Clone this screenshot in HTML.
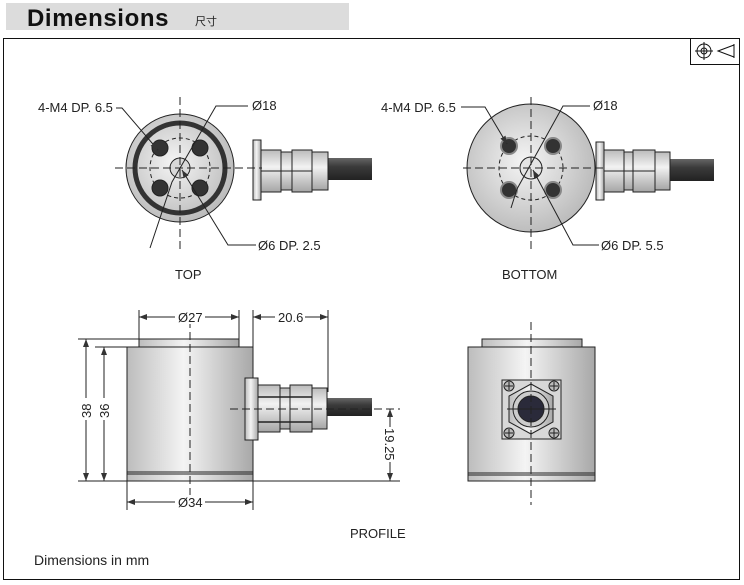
<!DOCTYPE html>
<html><head><meta charset="utf-8"><style>
html,body{margin:0;padding:0;background:#fff;}
svg{display:block;font-family:"Liberation Sans","Noto Sans CJK SC",sans-serif;}
</style></head><body>
<svg width="744" height="585" viewBox="0 0 744 585" xmlns="http://www.w3.org/2000/svg">
<defs>
<linearGradient id="hg" x1="0" x2="1" y1="0" y2="0">
<stop offset="0" stop-color="#bdbdbd"/><stop offset="0.45" stop-color="#f4f4f4"/><stop offset="1" stop-color="#a8a8a8"/></linearGradient>
<linearGradient id="vg" x1="0" x2="0" y1="0" y2="1">
<stop offset="0" stop-color="#bbb"/><stop offset="0.4" stop-color="#f2f2f2"/><stop offset="1" stop-color="#a5a5a5"/></linearGradient>
<radialGradient id="rg" cx="0.45" cy="0.45" r="0.6">
<stop offset="0" stop-color="#f5f5f5"/><stop offset="1" stop-color="#b8b8b8"/></radialGradient>
<linearGradient id="cab" x1="0" x2="0" y1="0" y2="1">
<stop offset="0" stop-color="#666"/><stop offset="0.4" stop-color="#3a3a3a"/><stop offset="1" stop-color="#222"/></linearGradient>
<marker id="ar" markerWidth="8" markerHeight="6" refX="8" refY="3" orient="auto-start-reverse" markerUnits="userSpaceOnUse"><path d="M0,0 L8,3 L0,6 z" fill="#333"/></marker>
</defs>
<rect x="6" y="3" width="343" height="27" fill="#dcdcdc"/>
<text x="27" y="26" font-size="24" font-weight="bold" letter-spacing="0.6" fill="#111">Dimensions</text>
<text x="195" y="25" font-size="11" fill="#222">尺寸</text>
<rect x="3.5" y="38.5" width="736" height="541" fill="none" stroke="#111" stroke-width="1"/>
<rect x="690.5" y="38.5" width="49" height="26" fill="#fff" stroke="#111"/>
<circle cx="704" cy="51" r="7" fill="none" stroke="#111"/><circle cx="704" cy="51" r="3" fill="none" stroke="#111"/>
<line x1="695" y1="51" x2="713" y2="51" stroke="#111"/><line x1="704" y1="42" x2="704" y2="60" stroke="#111"/>
<path d="M718,51 L734,45 L734,57 Z" fill="none" stroke="#111"/><line x1="734" y1="44" x2="734" y2="58" stroke="#111"/>

<g stroke="#222" stroke-width="1">
<rect x="328" y="158" width="44" height="22" fill="url(#cab)" stroke="none"/>
<rect x="253" y="140" width="8" height="60" fill="url(#hg)"/>
<rect x="261" y="150" width="20" height="42" fill="url(#vg)"/>
<rect x="281" y="152" width="47" height="38" fill="url(#vg)"/>
<rect x="292" y="150" width="20" height="42" fill="url(#vg)"/>
<line x1="261" y1="171" x2="312" y2="171"/>
<circle cx="180" cy="168" r="54" fill="url(#rg)"/>
<circle cx="180" cy="168" r="45" fill="none" stroke="#333" stroke-width="5"/>
<circle cx="180" cy="168" r="30" fill="none" stroke-dasharray="4,3"/>
<circle cx="180" cy="168" r="10" fill="#d8d8d8"/>
<circle cx="160" cy="148" r="8" fill="#333"/><circle cx="200" cy="148" r="8" fill="#333"/>
<circle cx="160" cy="188" r="8" fill="#333"/><circle cx="200" cy="188" r="8" fill="#333"/>
<line x1="115" y1="168" x2="262" y2="168" stroke-dasharray="8,4"/>
<line x1="180" y1="97" x2="180" y2="252" stroke-dasharray="8,4"/>
<polyline points="116,108 122,108 158,150" fill="none" marker-end="url(#ar)"/>
<polyline points="248,106 216,106 172,182 150,248" fill="none"/>
<polyline points="256,245 228,245 182,170" fill="none" marker-end="url(#ar)"/>

<rect x="670" y="159" width="44" height="22" fill="url(#cab)" stroke="none"/>
<rect x="596" y="142" width="8" height="58" fill="url(#hg)"/>
<rect x="604" y="150" width="20" height="42" fill="url(#vg)"/>
<rect x="624" y="152" width="46" height="38" fill="url(#vg)"/>
<rect x="633" y="150" width="22" height="42" fill="url(#vg)"/>
<line x1="604" y1="171" x2="655" y2="171"/>
<circle cx="531" cy="168" r="64" fill="url(#rg)"/>
<circle cx="531" cy="168" r="32" fill="none" stroke-dasharray="4,3"/>
<circle cx="531" cy="168" r="11" fill="#e4e4e4"/>
<g fill="#333" stroke="#888" stroke-width="2">
<circle cx="509" cy="146" r="8"/><circle cx="553" cy="146" r="8"/>
<circle cx="509" cy="190" r="8"/><circle cx="553" cy="190" r="8"/></g>
<line x1="463" y1="168" x2="606" y2="168" stroke-dasharray="8,4"/>
<line x1="531" y1="97" x2="531" y2="250" stroke-dasharray="8,4"/>
<polyline points="461,107 485,107 507,144" fill="none" marker-end="url(#ar)"/>
<polyline points="590,106 563,106 517,189 511,208" fill="none"/>
<polyline points="599,245 573,245 533,170" fill="none" marker-end="url(#ar)"/>
</g>
<g font-size="13" fill="#222">
<text x="38" y="112">4-M4 DP. 6.5</text>
<text x="252" y="110">Ø18</text>
<text x="258" y="250">Ø6 DP. 2.5</text>
<text x="175" y="279">TOP</text>
<text x="381" y="112">4-M4 DP. 6.5</text>
<text x="593" y="110">Ø18</text>
<text x="601" y="250">Ø6 DP. 5.5</text>
<text x="502" y="279">BOTTOM</text>
<text x="350" y="538">PROFILE</text>
<text x="34" y="565" font-size="14">Dimensions in mm</text>
</g>

<g stroke="#222" stroke-width="1">
<rect x="139" y="339" width="100" height="8" fill="url(#hg)"/>
<rect x="127" y="347" width="126" height="134" fill="url(#hg)"/>
<line x1="127" y1="472" x2="253" y2="472"/><line x1="127" y1="474" x2="253" y2="474"/>
<rect x="327" y="398" width="45" height="18" fill="url(#cab)" stroke="none"/>
<rect x="245" y="378" width="13" height="62" fill="url(#hg)"/>
<rect x="258" y="385" width="22" height="47" fill="url(#vg)"/>
<rect x="280" y="388" width="47" height="41" fill="url(#vg)"/>
<rect x="290" y="385" width="22" height="47" fill="url(#vg)"/>
<line x1="258" y1="397" x2="312" y2="397" stroke-width="1.5"/><line x1="258" y1="422" x2="312" y2="422" stroke-width="1.5"/>
<line x1="230" y1="409" x2="400" y2="409" stroke-dasharray="8,4"/>
<line x1="190" y1="320" x2="190" y2="510" stroke-dasharray="8,4"/>
<line x1="139" y1="310" x2="139" y2="339"/><line x1="239" y1="310" x2="239" y2="339"/>
<line x1="139" y1="317" x2="175" y2="317" marker-start="url(#ar)"/><line x1="205" y1="317" x2="239" y2="317" marker-end="url(#ar)"/>
<line x1="253" y1="310" x2="253" y2="347"/><line x1="328" y1="310" x2="328" y2="392"/>
<line x1="253" y1="317" x2="275" y2="317" marker-start="url(#ar)"/><line x1="305" y1="317" x2="328" y2="317" marker-end="url(#ar)"/>
<line x1="78" y1="339" x2="139" y2="339"/><line x1="95" y1="347" x2="127" y2="347"/>
<line x1="78" y1="481" x2="400" y2="481"/>
<line x1="86" y1="339" x2="86" y2="398" marker-start="url(#ar)"/><line x1="86" y1="420" x2="86" y2="481" marker-end="url(#ar)"/>
<line x1="104" y1="347" x2="104" y2="398" marker-start="url(#ar)"/><line x1="104" y1="420" x2="104" y2="481" marker-end="url(#ar)"/>
<line x1="127" y1="481" x2="127" y2="510"/><line x1="253" y1="481" x2="253" y2="510"/>
<line x1="127" y1="502" x2="175" y2="502" marker-start="url(#ar)"/><line x1="205" y1="502" x2="253" y2="502" marker-end="url(#ar)"/>
<line x1="390" y1="409" x2="390" y2="427" marker-start="url(#ar)"/><line x1="390" y1="462" x2="390" y2="481" marker-end="url(#ar)"/>
</g>
<g fill="#fff">
<rect x="177" y="310" width="28" height="14"/><rect x="277" y="310" width="28" height="14"/>
<rect x="177" y="495" width="28" height="14"/>
<rect x="79" y="400" width="14" height="18"/><rect x="97" y="400" width="14" height="18"/>
<rect x="383" y="427" width="14" height="35"/>
</g>
<g font-size="13" fill="#222">
<text x="178" y="322">Ø27</text>
<text x="278" y="322">20.6</text>
<text x="178" y="507">Ø34</text>
<text transform="translate(91,418) rotate(-90)">38</text>
<text transform="translate(109,418) rotate(-90)">36</text>
<text transform="translate(385,428) rotate(90)">19.25</text>
</g>

<g stroke="#222" stroke-width="1">
<rect x="482" y="339" width="100" height="8" fill="url(#hg)"/>
<rect x="468" y="347" width="127" height="134" fill="url(#hg)"/>
<line x1="468" y1="473" x2="595" y2="473"/><line x1="468" y1="475" x2="595" y2="475"/>
<rect x="502" y="380" width="59" height="59" fill="#d8d8d8"/>
<polygon points="531,384 553,396 553,422 531,434 509,422 509,396" fill="url(#hg)"/>
<circle cx="531" cy="409" r="18" fill="#ccc"/>
<circle cx="531" cy="409" r="13" fill="#2a2a3a"/>
<g fill="#bbb"><circle cx="509" cy="386" r="5"/><circle cx="554" cy="386" r="5"/><circle cx="509" cy="433" r="5"/><circle cx="554" cy="433" r="5"/></g>
<line x1="505" y1="386" x2="513" y2="386"/><line x1="509" y1="382" x2="509" y2="390"/>
<line x1="550" y1="386" x2="558" y2="386"/><line x1="554" y1="382" x2="554" y2="390"/>
<line x1="505" y1="433" x2="513" y2="433"/><line x1="509" y1="429" x2="509" y2="437"/>
<line x1="550" y1="433" x2="558" y2="433"/><line x1="554" y1="429" x2="554" y2="437"/>
<line x1="507" y1="409" x2="556" y2="409"/>
<line x1="531" y1="322" x2="531" y2="505" stroke-dasharray="8,4"/>
</g>
</svg>
</body></html>
